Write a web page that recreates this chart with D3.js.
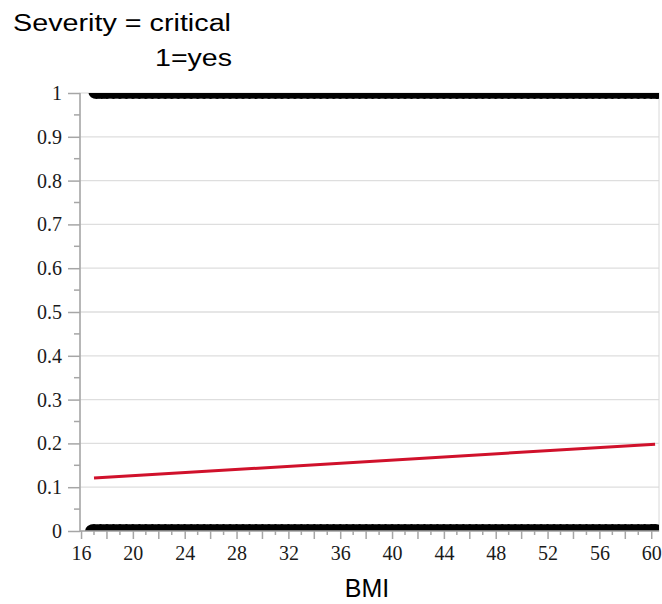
<!DOCTYPE html>
<html>
<head>
<meta charset="utf-8">
<script src="https://cdn.jsdelivr.net/npm/d3@7"></script>
<style>
  body { margin: 0; background: #fff; }
  svg { display: block; }
</style>
</head>
<body>
<div id="chart"></div>
<script>
// observed BMI values, critical = 0 and critical = 1
var bmiNo = [17, 17.5, 18, 18.5, 19, 19.5, 20, 20.5, 21, 21.5, 22, 22.5, 23, 23.5, 24, 24.5, 25, 25.5, 26, 26.5,
  27, 27.5, 28, 28.5, 29, 29.5, 30, 30.5, 31, 31.5, 32, 32.5, 33, 33.5, 34, 34.5, 35, 35.5, 36, 36.5, 37, 37.5,
  38, 38.5, 39, 39.5, 40, 40.5, 41, 41.5, 42, 42.5, 43, 43.5, 44, 44.5, 45, 45.5, 46, 46.5, 47, 47.5, 48, 48.5,
  49, 49.5, 50, 50.5, 51, 51.5, 52, 52.5, 53, 53.5, 54, 54.5, 55, 55.5, 56, 56.5, 57, 57.5, 58, 58.5, 59, 59.5, 60, 60.3];
var bmiYes = [17.2, 17.6, 18, 18.5, 19, 19.5, 20, 20.5, 21, 21.5, 22, 22.5, 23, 23.5, 24, 24.5, 25, 25.5, 26, 26.5,
  27, 27.5, 28, 28.5, 29, 29.5, 30, 30.5, 31, 31.5, 32, 32.5, 33, 33.5, 34, 34.5, 35, 35.5, 36, 36.5, 37, 37.5,
  38, 38.5, 39, 39.5, 40, 40.5, 41, 41.5, 42, 42.5, 43, 43.5, 44, 44.5, 45, 45.5, 46, 46.5, 47, 47.5, 48, 48.5,
  49, 49.5, 50, 50.5, 51, 51.5, 52, 52.5, 53, 53.5, 54, 54.5, 55, 55.5, 56, 56.5, 57, 57.5, 58, 58.5, 59, 59.5, 60, 60.4];
// fitted probability line (logistic fit, read at the ends)
var fitBmi = [17, 60.3];
var fitProb = [0.121, 0.198];

var xTicks = [16, 20, 24, 28, 32, 36, 40, 44, 48, 52, 56, 60];
var yTicks = [0, 0.1, 0.2, 0.3, 0.4, 0.5, 0.6, 0.7, 0.8, 0.9, 1];

var W = 662, H = 604;
var pLeft = 80, pRight = 659, pTop = 93, pBottom = 531;

var svg = d3.select("#chart").append("svg")
    .attr("width", W)
    .attr("height", H);

var x = d3.scaleLinear().domain([15.92, 60.6]).range([pLeft, pRight]);
var y = d3.scaleLinear().domain([0, 1]).range([pBottom, pTop]);

// titles
svg.append("text").attr("x", 13).attr("y", 31)
    .attr("textLength", 218).attr("lengthAdjust", "spacingAndGlyphs")
    .style("font-family", "Liberation Sans, Arial, sans-serif").style("font-size", "23px")
    .text("Severity = critical");
svg.append("text").attr("x", 155).attr("y", 66)
    .attr("textLength", 77).attr("lengthAdjust", "spacingAndGlyphs")
    .style("font-family", "Liberation Sans, Arial, sans-serif").style("font-size", "23px")
    .text("1=yes");

// grid
svg.append("g").selectAll("line").data(yTicks.slice(1, -1)).enter().append("line")
    .attr("x1", pLeft).attr("x2", pRight)
    .attr("y1", function (d) { return y(d); }).attr("y2", function (d) { return y(d); })
    .style("stroke", "#dedede").style("stroke-width", 1.3);

// frame
svg.append("rect").attr("x", pLeft).attr("y", pTop)
    .attr("width", pRight - pLeft).attr("height", pBottom - pTop)
    .style("fill", "none").style("stroke", "#d8d8d8").style("stroke-width", 1);

// points, clipped to frame (overlapping so they read as a band)
svg.append("clipPath").attr("id", "clip").append("rect")
    .attr("x", pLeft).attr("y", pTop).attr("width", pRight - pLeft).attr("height", pBottom - pTop);
var pts = svg.append("g").attr("clip-path", "url(#clip)");
pts.selectAll("ellipse.no").data(bmiNo).enter().append("ellipse")
    .attr("class", "no")
    .attr("cx", function (d) { return x(d); }).attr("cy", y(0)).attr("rx", 9).attr("ry", 7)
    .style("fill", "#000");
pts.selectAll("ellipse.yes").data(bmiYes).enter().append("ellipse")
    .attr("class", "yes")
    .attr("cx", function (d) { return x(d); }).attr("cy", y(1)).attr("rx", 8).attr("ry", 6)
    .style("fill", "#000");

// fit line
var fit = fitBmi.map(function (b, i) { return [b, fitProb[i]]; });
svg.append("path").datum(fit)
    .attr("d", d3.line().x(function (d) { return x(d[0]); }).y(function (d) { return y(d[1]); }))
    .style("fill", "none").style("stroke", "#d0112b").style("stroke-width", 3);

// y axis
var yAxis = d3.axisLeft(y).tickValues(yTicks).tickSize(12).tickPadding(6)
    .tickFormat(function (d) { return d === 0 || d === 1 ? d3.format("d")(d) : d3.format(".1f")(d); });
var gy = svg.append("g").attr("transform", "translate(" + pLeft + ",0)").call(yAxis);
gy.select(".domain").attr("d", "M0," + pTop + "V" + (pBottom + 1));
var yMinor = d3.range(0.05, 1, 0.1);
gy.selectAll("line.minor").data(yMinor).enter().append("line").attr("class", "minor")
    .attr("x1", -6).attr("x2", 0)
    .attr("y1", function (d) { return y(d); }).attr("y2", function (d) { return y(d); });

// x axis
var xAxis = d3.axisBottom(x).tickValues(xTicks).tickSize(8).tickPadding(7);
var gx = svg.append("g").attr("transform", "translate(0," + pBottom + ")").call(xAxis);
gx.select(".domain").attr("d", "M" + pLeft + ",0H" + pRight);
var xMinor = d3.range(17, 61, 1).filter(function (d) { return d % 4 !== 0; });
gx.selectAll("line.minor").data(xMinor).enter().append("line").attr("class", "minor")
    .attr("x1", function (d) { return x(d); }).attr("x2", function (d) { return x(d); })
    .attr("y1", 0).attr("y2", function (d) { return d % 2 === 0 ? 8 : 4; });

svg.selectAll(".domain, .tick line, line.minor")
    .style("stroke", "#a6a6a6").style("stroke-width", 1.5);
svg.selectAll(".tick text")
    .style("font-family", "Liberation Serif, Times New Roman, serif")
    .style("font-size", "20px").style("fill", "#1a1a1a");

svg.append("text").attr("x", 367).attr("y", 597)
    .attr("text-anchor", "middle")
    .style("font-family", "Liberation Sans, Arial, sans-serif").style("font-size", "25px")
    .text("BMI");
</script>
</body>
</html>
